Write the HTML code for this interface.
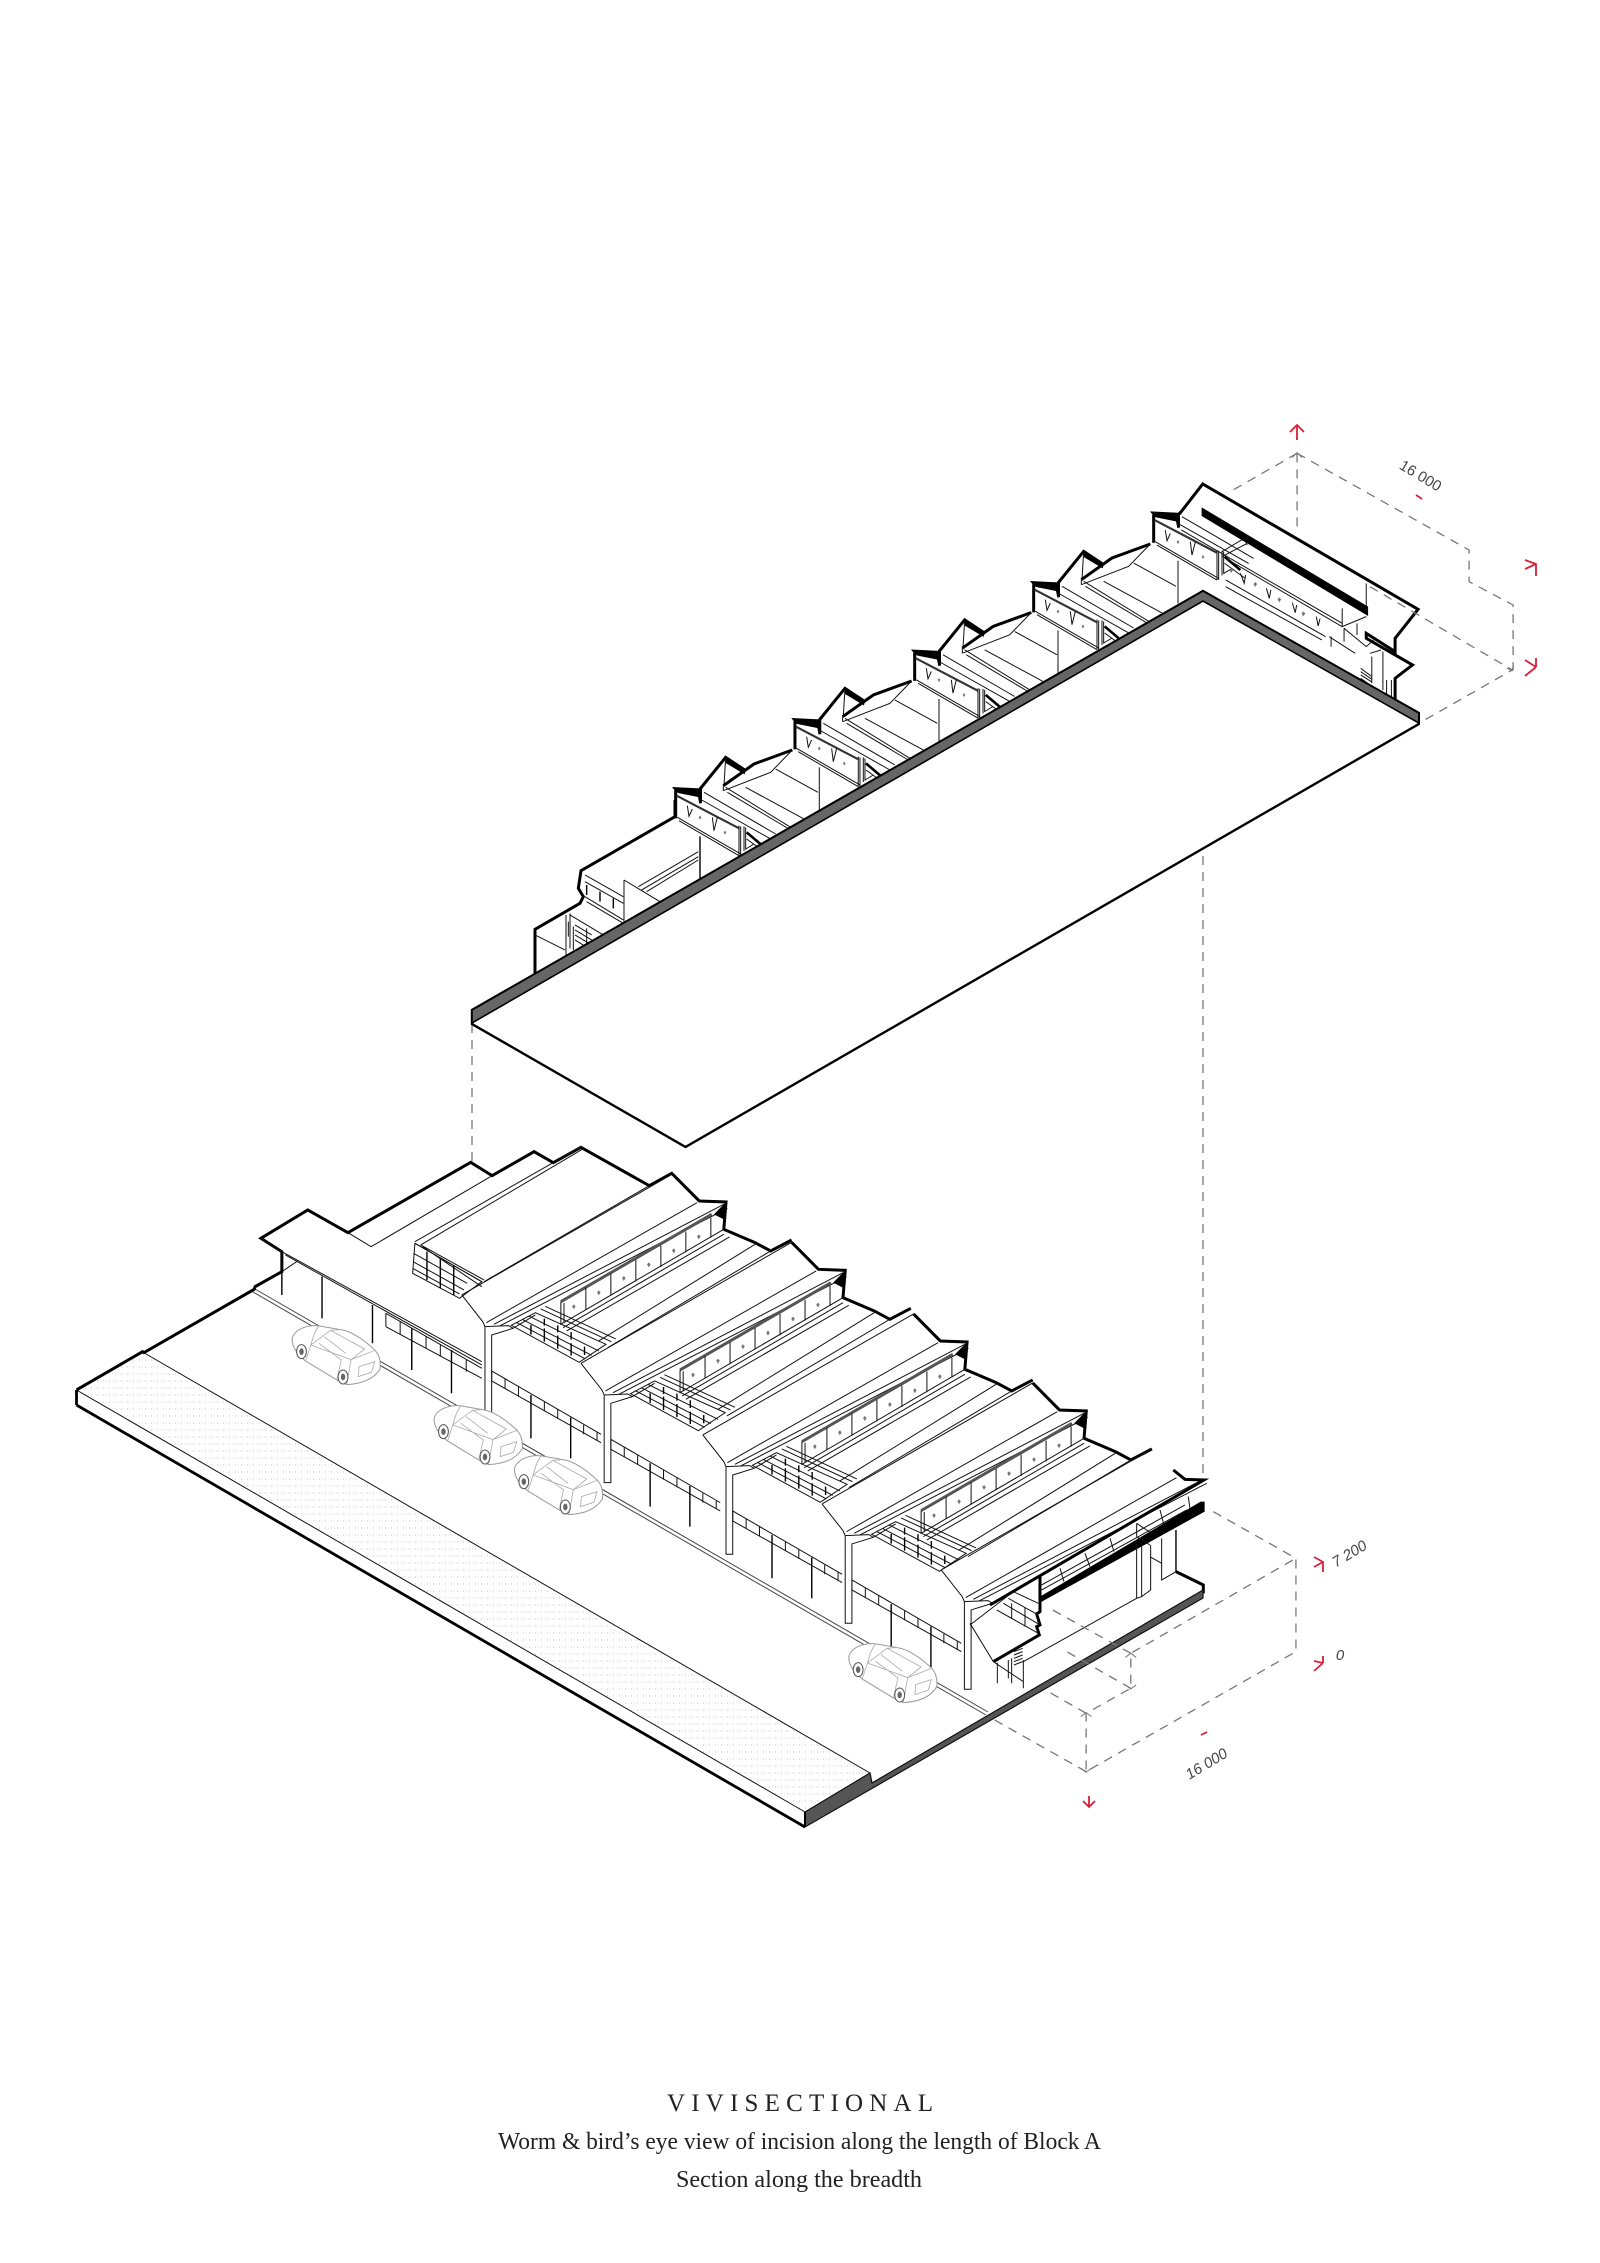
<!DOCTYPE html>
<html><head><meta charset="utf-8"><title>Vivisectional</title>
<style>
html,body{margin:0;padding:0;background:#fff}
svg{display:block}
svg *{vector-effect:non-scaling-stroke}
.a{fill:none;stroke:#111;stroke-width:1;stroke-linejoin:miter}
.k{fill:none;stroke:#000;stroke-width:3;stroke-linejoin:miter}
.m{fill:none;stroke:#000;stroke-width:1.4}
.b{fill:#000;stroke:none}
.d{fill:none;stroke:#777;stroke-width:1.3;stroke-dasharray:9 7}
.r{fill:none;stroke:#d9203a;stroke-width:1.8}
.c{fill:#fff;stroke:#999;stroke-width:1}
.c2{fill:none;stroke:#aaa;stroke-width:.8}
.w{fill:#777;stroke:none}
</style></head><body>
<svg width="1600" height="2263" viewBox="0 0 1600 2263" xmlns="http://www.w3.org/2000/svg">
<defs>
<pattern id="dots" width="6" height="7" patternUnits="userSpaceOnUse">
<circle cx="1.5" cy="2" r=".7" fill="#d2d2d2"/><circle cx="4.5" cy="2" r=".55" fill="#dedede"/>
</pattern>

<!-- upper module, 3x units relative to eave point -->
<g id="umA">
<path class="b" d="M-6,-6 L78,-2 L84,-8 L84,42 L76,44 L72,24 L12,12 L5,8 Z"/>
<path class="k" d="M5,4 V88"/>
<path d="M8,20 L195,118" fill="none" stroke="#333" stroke-width="2.2"/>
<path class="a" d="M10,85 L200,195 M15,95 L195,200 M90,10 L305,135 M78,30 L290,150"/>
<path class="a" d="M40,50 L45,82 L55,60 M115,85 L120,125 L130,85"/>
<path class="w" d="M74,85 l4,-5 l4,5 l-4,7z M149,130 l4,-5 l4,5 l-4,7z"/>
<path class="a" d="M195,110 V200 M200,112 V200 M210,112 V186 M215,115 V182 M78,142 V270"/>
<path d="M218,130 L265,170" fill="none" stroke="#000" stroke-width="2.6"/>
<path class="a" d="M218,150 L280,195 M215,180 L240,165"/>
</g>
<g id="umB">
<path class="k" d="M78,0 L155,-95 L215,-55"/>
<path class="b" d="M155,-90 L215,-55 L212,-44 L155,-78 Z"/>
<path class="a" d="M155,-95 L150,-10"/>
<path class="k" d="M148,-10 L240,-75 L355,-117"/>
<path class="a" d="M148,5 L148,-10 M148,5 L290,-50 L355,-117"/>
<path class="a" d="M155,-5 L350,115 M160,10 L345,120 M215,-5 L390,90 M305,-60 L432,10"/>
</g>

<g id="lmA">
<path class="a" d="M-55,-100 L-8,-20 L-3,-5 V258 H12 V20 L60,0 L110,-40 M-3,-5 L50,-8 L60,0"/>
<path class="a" d="M0,-17 L472,-377 M17,-12 L532,-372 M-55,-100 L417,-463 M30,-7 L540,-360"/>
</g>
<g id="lmF">
<path class="a" d="M12,128 L257,318 M12,158 L257,343 M12,128 V158"/>
<path class="a" d="M42,151 V181 M72,174 V204 M130,219 V249 M160,242 V272 M218,290 V318 M248,313 V338"/>
<path class="m" d="M100,200 V330 M189,268 V390"/>
</g>
<g id="lmB">
<path class="k" d="M417,-463 L477,-382 L537,-379 L532,-297 L602,-257 L637,-232 L684,-265"/>
<path class="b" d="M510,-342 L537,-379 L535,-325 Z"/>
<path d="M167,-80 L505,-342" fill="none" stroke="#555" stroke-width="3"/>
<path class="a" d="M167,-80 V-12 L532,-297 M174,-76 V-18 M172,-2 L532,-282 M180,8 L545,-274"/>
<path class="a" d="M223,-122 V-55 M279,-164 V-98 M335,-206 V-141 M391,-248 V-184 M447,-290 V-228 M503,-332 V-272"/>
<path class="w" d="M192,-66 l4,-6 l4,6 l-4,9z M248,-108 l4,-6 l4,6 l-4,9z M304,-151 l4,-6 l4,6 l-4,9z M360,-192 l4,-6 l4,6 l-4,9z M416,-234 l4,-6 l4,6 l-4,9z M472,-276 l4,-6 l4,6 l-4,9z"/>
<path class="a" d="M252,38 L602,-252 M272,58 L637,-232"/>
<path fill="#fff" class="a" d="M56,-9 L110,-47 L268,48 L208,102 Z"/>
<path class="a" d="M67,-18 L222,92 M80,-27 L236,81 M95,-37 L252,68 M122,-58 L280,40 M132,-66 L290,32"/>
<path class="m" d="M100,19 V-10 M130,40 V0 M130,-29 V-8 M160,61 V22 M160,-9 V12 M190,82 V45 M190,11 V34 M220,80 V55"/>
</g>

<g id="car">
<path class="c" d="M0,42 C4,15 32,-2 62,3 L108,14 C134,18 165,50 186,76 C196,92 199,112 197,132 C186,156 165,176 122,179 L100,165 L30,108 C10,86 0,66 0,42 Z"/>
<path class="c2" d="M42,60 L86,16 L162,72 L132,104 Z M60,2 C50,20 46,40 42,60 L30,108 M86,16 L108,14 M132,104 L122,179 M132,104 L186,76 M60,55 L110,105 L100,165 M72,35 L120,85 M150,125 L185,110 L178,142 L148,155 Z M42,60 L132,104"/>
<ellipse cx="21" cy="80" rx="11" ry="21" fill="#fff" stroke="#555"/>
<ellipse cx="21" cy="80" rx="5" ry="10" fill="#666"/>
<ellipse cx="114" cy="156" rx="11" ry="21" fill="#fff" stroke="#555"/>
<ellipse cx="114" cy="156" rx="5" ry="10" fill="#666"/>
</g>
</defs>

<rect width="1600" height="2263" fill="#fff"/>

<!-- connector dashes -->
<path class="d" d="M472,1024 V1165 M1203,600 V1480"/>

<!-- upper building -->
<g transform="translate(674,789) scale(.3333)"><use href="#umA"/><use href="#umB"/></g>
<g transform="translate(793.3,720) scale(.3333)"><use href="#umA"/><use href="#umB"/></g>
<g transform="translate(913,651.5) scale(.3333)"><use href="#umA"/><use href="#umB"/></g>
<g transform="translate(1032,583) scale(.3333)"><use href="#umA"/><use href="#umB"/></g>
<g transform="translate(1152,513.4) scale(.3333)"><use href="#umA"/></g>

<!-- upper left end -->
<g transform="translate(520,800) scale(.3333)">
<path class="k" d="M45,525 V388 L180,310 L190,290 L175,265 L183,212 L465,50 V0"/>
<path class="a" d="M45,405 L135,450 M138,345 V470 M150,340 V445 M150,345 L250,405"/>
<path class="a" d="M195,225 L310,290 M195,245 L310,310 M195,290 L310,360 M200,305 L310,370"/>
<path class="m" d="M200,255 V285 M240,275 V305 M280,295 V325"/>
<path class="a" d="M312,240 V370 M312,240 L420,305 M355,260 L535,155 M365,270 L535,170 M380,275 L535,180"/>
<path class="m" d="M540,110 V240"/>
<path class="a" d="M165,375 L215,405 M165,390 L215,420 M165,405 L215,435 M165,420 L205,445 M160,380 V450 M200,385 V430 M145,365 V410"/>
</g>

<!-- upper right end -->
<g transform="translate(1000,420) scale(.36995,.3333)">
<path class="k" d="M485,282 L548,192 L1130,568 L1068,655 V695 L990,640 V655 L1115,735 L1068,775 V845"/>
<path class="b" d="M545,262 L995,560 V588 L545,288 Z"/>
<path class="a" d="M990,490 V560 M610,415 L925,620 M610,480 L880,650 M610,500 L870,660 M600,410 L665,372 M600,395 L660,355 L668,375"/>
<path class="a" d="M490,330 L925,610 V620 L990,590 M925,565 V620 M650,460 L660,490 L664,465 M720,505 L728,535 L732,510 M790,548 L798,578 L802,555 M855,590 L860,618 L865,596"/>
<path class="a" d="M930,625 L990,680 L1010,660 M890,650 L960,700 M895,650 V680 M930,625 V665 M965,610 V645 M1000,700 L1030,690 M1005,710 V790 M1035,695 V810 M1045,780 V830 M1058,780 V840"/>
<path class="a" d="M975,745 L1005,770 M975,755 L1005,778 M975,765 L1005,786 M975,775 L1000,795"/>
<path class="w" d="M620,450 l5,-6 l5,6 l-5,9z M685,492 l5,-6 l5,6 l-5,9z M750,538 l5,-6 l5,6 l-5,9z M815,580 l5,-6 l5,6 l-5,9z"/>
<path class="d" d="M803,100 L630,210 M803,100 V330 M803,100 L1268,390 V485 L1387,555 V750 M1000,500 L1385,750 L1140,905"/>
<path class="a" d="M790,112 L803,98 L816,112" style="stroke:#777"/>
<path class="a" d="M1370,745 L1385,752 L1387,735" style="stroke:#777"/>
</g>

<!-- upper slab -->
<path d="M1203,591 L1418.8,713 V724 L685.5,1147 L472,1024 V1010 Z" fill="#fff" stroke="#000" stroke-width="2.4" stroke-linejoin="miter"/>
<path d="M1203,591 L1418.8,713 V723 L1203,601 L472,1023 V1010 Z" fill="#666" stroke="#000" stroke-width="1.6"/>

<!-- lower slab -->
<path d="M76.5,1390 L142.6,1352 L870,1773 L805,1812 Z" fill="url(#dots)"/>
<path class="a" d="M76.5,1390 L805,1812 M142.6,1352 L870,1773"/>
<path d="M76.5,1405 L805,1827" fill="none" stroke="#000" stroke-width="2.8"/>
<path d="M76.5,1390 V1405" fill="none" stroke="#000" stroke-width="2.8"/>
<path d="M255,1289 L988,1712 M253,1292 L986,1715" fill="none" stroke="#444" stroke-width="1"/>

<!-- lower building -->
<g transform="translate(60,1130) scale(.4464,.3333)">
<path class="k" d="M37,780 L185,665 L188,668 L435,478 L437,470 L497,425 V365 L450,325 L555,240 L645,308 L920,97 L968,137 L1062,65 L1105,98 L1167,52 L1320,167 L1373,128"/>
<path class="a" d="M450,325 L497,365 L945,695 M505,375 L945,705 M645,308 L697,350 L968,137 M1165,52 L795,335 M1170,58 L808,345 M497,425 L530,395"/>
<path class="a" d="M795,340 L945,455 M808,345 L950,450 M812,350 L945,470 M950,455 L1320,167"/>
<path class="a" fill="#fff" d="M795,340 L790,430 L895,505 L945,455 Z"/>
<path class="a" d="M792,370 L912,460 M791,395 L905,480 M790,415 L895,492"/>
<path class="m" d="M822,365 V450 M852,385 V475 M882,405 V495"/>
<path class="m" d="M497,375 V495 M587,440 V565 M700,525 V640 M788,595 V720 M877,660 V790"/>
<path class="a" d="M730,550 L945,715 M730,590 L945,745 M730,550 V590 M762,575 V612 M820,620 V655 M852,645 V680 M910,690 V725"/>
<use href="#lmA" x="955" y="595"/><use href="#lmB" x="955" y="595"/><use href="#lmF" x="955" y="595"/>
<use href="#lmA" x="1222" y="800"/><use href="#lmB" x="1222" y="800"/><use href="#lmF" x="1222" y="800"/>
<use href="#lmA" x="1495" y="1015"/><use href="#lmB" x="1495" y="1015"/><use href="#lmF" x="1495" y="1015"/>
<use href="#lmA" x="1762" y="1222"/><use href="#lmB" x="1762" y="1222"/><use href="#lmF" x="1762" y="1222"/>
<use href="#lmA" x="2029" y="1420"/>
<use href="#car" x="520" y="585"/>
<use href="#car" x="838" y="825"/>
<use href="#car" x="1018" y="975"/>
<use href="#car" x="1767" y="1539"/>
</g>

<!-- lower right end (3x units) -->
<g transform="translate(940,1470) scale(.3333)">
<path fill="#fff" stroke="none" d="M300,320 L790,60 V345 L250,650 L160,575 Z"/>
<path class="k" d="M700,0 L735,28 L792,30 L150,405"/>
<path class="b" d="M782,95 L794,95 V125 L300,398 V380 Z"/>
<path class="k" d="M300,320 V425 L290,432 L300,465 L290,470 L298,495 L160,575"/>
<path class="a" d="M745,80 L750,115 M360,295 L372,335 M435,250 L450,290 M510,205 L522,245 M660,120 L672,165 M305,360 L740,120 M305,345 L735,105"/>
<path class="a" d="M90,465 L220,365 L295,400 M90,460 L160,575 M170,420 L295,490 M190,400 L295,462 M205,385 L295,435 M215,400 V445 M255,412 V470"/>
<path class="a" d="M590,160 L635,190 M590,200 L630,225 M590,160 V200 M590,220 V385 L605,380 V220 M632,225 V360 L605,380 M630,260 L665,280"/>
<path class="a" d="M665,205 V330 L708,305"/>
<path class="m" d="M708,180 V305"/>
<path class="k" d="M708,305 L790,345 V370"/>
<path class="a" d="M250,575 L590,385 M250,570 V655 M160,575 L250,635 M172,578 V640 M205,570 V625 M215,565 V640"/>
<path class="a" d="M222,535 L248,525 M222,545 L248,535 M222,555 L248,545 M222,565 L248,555 M222,575 L248,565 M222,585 L248,575"/>
</g>

<!-- lower slab band -->
<path d="M805,1812 L870,1773 L872,1783 L1203,1590 V1598 L805,1827 Z" fill="#555" stroke="#111" stroke-width="1.2"/>
<path d="M805,1812 V1827" fill="none" stroke="#000" stroke-width="2"/>

<g transform="translate(700,1300) scale(.4464,.3333)">
<path class="d" d="M1150,635 L1335,775 V1055 L865,1415 V1240 L965,1165 V1060 L1335,775 M865,1240 L780,1175 M965,1060 L790,930 M965,1165 L815,1050 M660,1260 L865,1415"/>
<path class="a" d="M953,1072 L965,1060 L977,1072 M953,1155 L965,1167 L977,1155 M853,1250 L865,1238 L877,1250 M853,1405 L865,1417 L877,1405" style="stroke:#777"/>
</g>

<!-- red dimension marks -->
<path class="r" d="M1297,440 V425 M1290,432 L1297,425 L1304,432"/>
<path class="r" d="M1525,560 L1536,564 V576 M1525,569 L1536,564"/>
<path class="r" d="M1525,660 L1536,667 M1525,676 L1536,667 M1536,658 V667"/>
<path class="r" d="M1416,495 L1422,499"/>
<path class="r" d="M1314,1557 L1323,1562 V1572 M1314,1567 L1323,1562"/>
<path class="r" d="M1314,1661 L1323,1663 M1314,1671 L1323,1663 M1323,1656 V1663"/>
<path class="r" d="M1201,1735 L1207,1732"/>
<path class="r" d="M1089,1796 V1807 M1083,1801 L1089,1807 L1095,1801"/>

<!-- dimension labels -->
<g font-family="'Liberation Sans',sans-serif" fill="#444" font-size="15">
<text x="1418" y="480" text-anchor="middle" transform="rotate(31 1418 480)">16 000</text>
<text x="1352" y="1558" text-anchor="middle" font-style="italic" transform="rotate(-31 1352 1558)">7 200</text>
<text x="1340" y="1660" text-anchor="middle" font-style="italic">0</text>
<text x="1209" y="1768" text-anchor="middle" font-style="italic" transform="rotate(-31 1209 1768)">16 000</text>
</g>

<!-- caption -->
<g font-family="'Liberation Serif',serif" fill="#222">
<text x="667" y="2111" font-size="25" textLength="266" lengthAdjust="spacing">VIVISECTIONAL</text>
<text x="498" y="2149" font-size="24" textLength="603" lengthAdjust="spacingAndGlyphs">Worm &amp; bird’s eye view of incision along the length of Block A</text>
<text x="676" y="2187" font-size="24" textLength="246" lengthAdjust="spacingAndGlyphs">Section along the breadth</text>
</g>
</svg>
</body></html>
